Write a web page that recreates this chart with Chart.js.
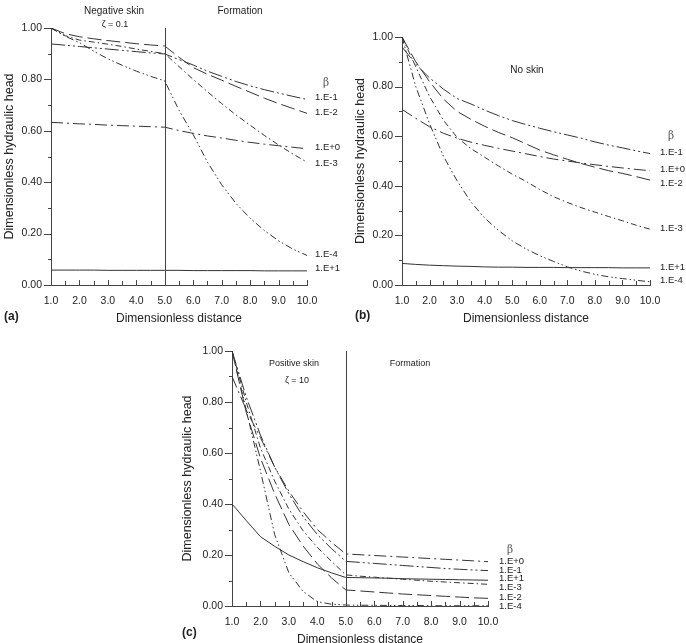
<!DOCTYPE html>
<html>
<head>
<meta charset="utf-8">
<script src="https://cdn.jsdelivr.net/npm/chart.js@4.4.1/dist/chart.umd.min.js"></script>
<style>
  body { margin: 0; background: #fff; width: 686px; height: 643px; overflow: hidden; position: relative; }
  canvas { position: absolute; }
</style>
</head>
<body>
<canvas id="chartA" width="345" height="330" style="left:0;top:0"></canvas>
<canvas id="chartB" width="335" height="330" style="left:351px;top:0"></canvas>
<canvas id="chartC" width="350" height="321" style="left:178px;top:330px"></canvas>
<script>
// dimensionless distance, shared by all three panels
const distance = [1, 1.5, 2, 2.5, 3, 3.5, 4, 4.5, 5, 5.5, 6, 6.5, 7, 7.5, 8, 8.5, 9, 9.5, 10];
const betaNames = ["1.E+1", "1.E+0", "1.E-1", "1.E-2", "1.E-3", "1.E-4"];
const xTicks = [1, 2, 3, 4, 5, 6, 7, 8, 9, 10];
const yTicks = [0, 0.2, 0.4, 0.6, 0.8, 1.0];
const skinEdge = 5;

// (a) negative skin, zeta = 0.1
const negE1  = [0.058, 0.058, 0.058, 0.058, 0.057, 0.057, 0.057, 0.057, 0.057, 0.057, 0.056, 0.056, 0.056, 0.056, 0.056, 0.055, 0.055, 0.055, 0.055];
const negE0  = [0.633, 0.630, 0.627, 0.625, 0.622, 0.620, 0.618, 0.616, 0.614, 0.601, 0.590, 0.580, 0.572, 0.563, 0.555, 0.548, 0.542, 0.536, 0.530];
const negEm1 = [0.938, 0.933, 0.928, 0.923, 0.918, 0.913, 0.908, 0.903, 0.899, 0.877, 0.856, 0.832, 0.812, 0.792, 0.775, 0.760, 0.747, 0.734, 0.722];
const negEm2 = [1.000, 0.978, 0.966, 0.958, 0.951, 0.945, 0.939, 0.934, 0.930, 0.886, 0.846, 0.820, 0.797, 0.773, 0.750, 0.727, 0.706, 0.687, 0.668];
const negEm3 = [1.000, 0.970, 0.953, 0.945, 0.937, 0.928, 0.918, 0.909, 0.900, 0.850, 0.800, 0.752, 0.706, 0.662, 0.622, 0.582, 0.545, 0.510, 0.478];
const negEm4 = [1.000, 0.968, 0.943, 0.910, 0.880, 0.855, 0.832, 0.812, 0.794, 0.680, 0.585, 0.478, 0.390, 0.318, 0.260, 0.212, 0.172, 0.140, 0.115];

// (b) no skin
const noE1  = [0.087, 0.083, 0.080, 0.078, 0.076, 0.075, 0.073, 0.072, 0.072, 0.071, 0.071, 0.071, 0.070, 0.070, 0.070, 0.070, 0.069, 0.069, 0.069];
const noE0  = [0.708, 0.672, 0.638, 0.612, 0.592, 0.576, 0.563, 0.551, 0.540, 0.529, 0.518, 0.508, 0.500, 0.492, 0.485, 0.478, 0.472, 0.466, 0.461];
const noEm1 = [0.960, 0.890, 0.835, 0.790, 0.752, 0.730, 0.705, 0.683, 0.663, 0.647, 0.632, 0.618, 0.605, 0.592, 0.577, 0.564, 0.553, 0.541, 0.530];
const noEm2 = [1.000, 0.900, 0.820, 0.750, 0.700, 0.668, 0.640, 0.615, 0.594, 0.569, 0.544, 0.525, 0.507, 0.490, 0.475, 0.461, 0.450, 0.437, 0.423];
const noEm3 = [1.000, 0.880, 0.760, 0.665, 0.595, 0.550, 0.515, 0.480, 0.447, 0.418, 0.385, 0.356, 0.333, 0.312, 0.294, 0.276, 0.259, 0.241, 0.225];
const noEm4 = [1.000, 0.800, 0.650, 0.520, 0.420, 0.335, 0.270, 0.220, 0.178, 0.145, 0.118, 0.095, 0.073, 0.056, 0.043, 0.033, 0.026, 0.019, 0.013];

// (c) positive skin, zeta = 10
const posE1  = [0.400, 0.335, 0.272, 0.234, 0.200, 0.174, 0.150, 0.130, 0.112, 0.111, 0.110, 0.109, 0.107, 0.106, 0.105, 0.104, 0.103, 0.102, 0.101];
const posE0  = [0.900, 0.770, 0.660, 0.545, 0.450, 0.370, 0.300, 0.250, 0.204, 0.201, 0.198, 0.195, 0.192, 0.189, 0.186, 0.183, 0.180, 0.177, 0.174];
const posEm1 = [1.000, 0.820, 0.670, 0.545, 0.440, 0.350, 0.280, 0.225, 0.175, 0.171, 0.167, 0.163, 0.159, 0.155, 0.151, 0.147, 0.144, 0.141, 0.139];
const posEm2 = [1.000, 0.760, 0.580, 0.440, 0.320, 0.235, 0.165, 0.110, 0.063, 0.059, 0.055, 0.051, 0.047, 0.044, 0.041, 0.038, 0.035, 0.032, 0.030];
const posEm3 = [1.000, 0.800, 0.620, 0.490, 0.380, 0.295, 0.230, 0.175, 0.122, 0.117, 0.113, 0.109, 0.105, 0.101, 0.097, 0.094, 0.091, 0.088, 0.085];
const posEm4 = [1.000, 0.770, 0.530, 0.280, 0.130, 0.057, 0.017, 0.007, 0.004, 0.003, 0.003, 0.002, 0.002, 0.002, 0.001, 0.001, 0.001, 0.001, 0.001];

const FONT = "'Liberation Sans', Arial, Helvetica, sans-serif";
const INK = "#222";
const AXIS = "#444";
const dashes = [[], [12, 4, 2, 4], [14, 3, 2, 3, 2, 3], [14, 5], [6, 3, 1.5, 3], [7, 3, 1.5, 2.5, 1.5, 3]];

// text drawn around each plot: headers, beta labels, panel letter
const decor = {
  id: "decor",
  afterDraw(chart, args, o) {
    const { ctx, scales: { x, y } } = chart;
    ctx.save();
    ctx.strokeStyle = AXIS;
    ctx.lineWidth = 1;
    // y ticks point outward, x ticks point up
    y.ticks.forEach((t, i) => {
      const py = Math.round(y.getPixelForValue(t.value)) + 0.5;
      const len = i % 2 === 0 ? 7 : 3;
      ctx.beginPath(); ctx.moveTo(x.left - len, py); ctx.lineTo(x.left, py); ctx.stroke();
    });
    x.ticks.forEach(t => {
      const px = Math.round(x.getPixelForValue(t.value)) + 0.5;
      const len = Number.isInteger(t.value) ? 5 : 4;
      ctx.beginPath(); ctx.moveTo(px, y.bottom); ctx.lineTo(px, y.bottom - len); ctx.stroke();
    });
    if (o.edge) {
      const px = Math.round(x.getPixelForValue(skinEdge)) + 0.5;
      ctx.beginPath(); ctx.moveTo(px, y.getPixelForValue(1)); ctx.lineTo(px, y.bottom); ctx.stroke();
    }
    ctx.fillStyle = INK;
    ctx.textBaseline = "middle";
    ctx.textAlign = "center";
    o.notes.forEach(n => {
      ctx.font = n.size + "px " + FONT;
      ctx.fillText(n.text, n.x, n.y);
    });
    ctx.textAlign = "left";
    ctx.font = "9.5px " + FONT;
    o.tags.forEach(t => ctx.fillText(t[0], x.right + o.gap, y.getPixelForValue(t[1])));
    ctx.textAlign = "center";
    ctx.font = "10.5px 'DejaVu Serif', serif";
    ctx.fillStyle = "#555";
    ctx.fillText("\u03b2", x.right + o.gap + 11, y.getPixelForValue(o.betaAt));
    ctx.fillStyle = INK;
    ctx.textAlign = "left";
    ctx.font = "bold 12px " + FONT;
    ctx.fillText(o.letter[0], 4, o.letter[1]);
    ctx.restore();
  }
};

function makePanel(id, series, pad, yWidth, decorOpts) {
  new Chart(document.getElementById(id), {
    type: "line",
    data: {
      labels: distance,
      datasets: series.map((s, i) => ({
        label: betaNames[i],
        data: distance.map((d, k) => ({ x: d, y: s[k] })),
        borderColor: "#333",
        borderWidth: 1,
        borderDash: dashes[i],
        pointRadius: 0,
        tension: 0,
        fill: false
      }))
    },
    options: {
      responsive: false,
      animation: false,
      devicePixelRatio: 1,
      layout: { padding: pad },
      plugins: { legend: { display: false }, tooltip: { enabled: false }, decor: decorOpts },
      scales: {
        x: {
          type: "linear", min: 1, max: 10,
          afterFit: s => { s.height = 45; },
          grid: { display: false, drawTicks: false },
          border: { color: AXIS, width: 1 },
          ticks: {
            stepSize: 0.5, autoSkip: false, maxRotation: 0, padding: 10,
            color: INK, font: { family: FONT, size: 10.5 },
            callback: v => xTicks.includes(v) ? v.toFixed(1) : ""
          },
          title: { display: true, text: "Dimensionless distance", color: INK, font: { family: FONT, size: 12 }, padding: { top: 0, bottom: 4 } }
        },
        y: {
          type: "linear", min: 0, max: 1,
          afterFit: s => { s.width = yWidth; },
          grid: { display: false, drawTicks: false },
          border: { color: AXIS, width: 1 },
          ticks: {
            stepSize: 0.1, autoSkip: false, padding: 9,
            color: INK, font: { family: FONT, size: 10.5 },
            callback: v => yTicks.some(t => Math.abs(t - v) < 1e-6) ? v.toFixed(2) : ""
          },
          title: { display: true, text: "Dimensionless hydraulic head", color: INK, font: { family: FONT, size: 12.5 }, padding: { top: 2.5, bottom: 0 } }
        }
      }
    },
    plugins: [decor]
  });
}

makePanel("chartA", [negE1, negE0, negEm1, negEm2, negEm3, negEm4], { left: 0, top: 28, right: 38, bottom: 0 }, 51, {
  edge: true, gap: 8, betaAt: 0.786, letter: ["(a)", 317],
  tags: [["1.E-1", 0.732], ["1.E-2", 0.673], ["1.E+0", 0.537], ["1.E-3", 0.475], ["1.E-4", 0.121], ["1.E+1", 0.066]],
  notes: [
    { text: "Negative skin", x: 114, y: 11, size: 10 },
    { text: "Formation", x: 240, y: 11, size: 10 },
    { text: "\u03b6 = 0.1", x: 115, y: 25, size: 9 }
  ]
});

makePanel("chartB", [noE1, noE0, noEm1, noEm2, noEm3, noEm4], { left: 0, top: 37, right: 36, bottom: 0 }, 51, {
  edge: false, gap: 10, betaAt: 0.601, letter: ["(b)", 316],
  tags: [["1.E-1", 0.536], ["1.E+0", 0.468], ["1.E-2", 0.411], ["1.E-3", 0.23], ["1.E+1", 0.073], ["1.E-4", 0.02]],
  notes: [{ text: "No skin", x: 176, y: 70, size: 10 }]
});

makePanel("chartC", [posE1, posE0, posEm1, posEm2, posEm3, posEm4], { left: 0, top: 21, right: 40, bottom: 0 }, 54, {
  edge: true, gap: 11, betaAt: 0.22, letter: ["(c)", 303],
  tags: [["1.E+0", 0.176], ["1.E-1", 0.141], ["1.E+1", 0.11], ["1.E-3", 0.075], ["1.E-2", 0.035], ["1.E-4", 0.0]],
  notes: [
    { text: "Positive skin", x: 116, y: 34, size: 9 },
    { text: "\u03b6 = 10", x: 119, y: 51, size: 9 },
    { text: "Formation", x: 232, y: 34, size: 9 }
  ]
});
</script>
</body>
</html>
